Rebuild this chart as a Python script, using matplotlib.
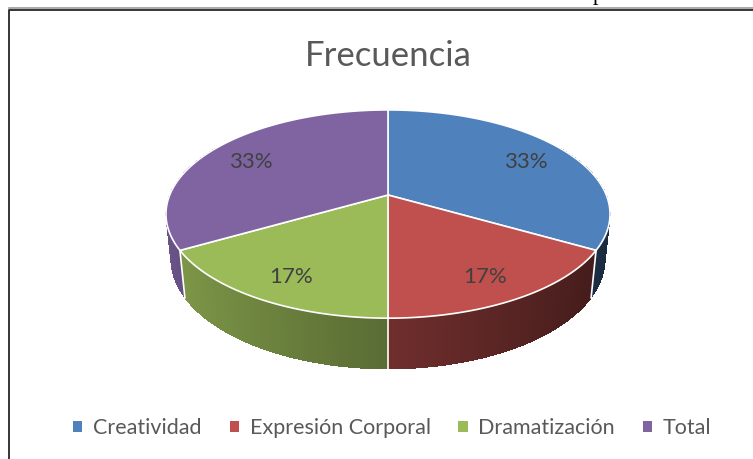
import numpy as np
import matplotlib.pyplot as plt
from matplotlib.patches import Polygon, Patch

# datos
categorias = ['Creatividad', 'Expresión Corporal', 'Dramatización', 'Total']
valores = [2, 1, 1, 2]
colores = ['#4F81BD', '#C0504D', '#9BBB59', '#8064A2']
titulo = 'Frecuencia'

plt.rcParams['font.family'] = ['Lato', 'DejaVu Sans']

# proyeccion en perspectiva del pastel 3D (pixeles)
CX, CY = 388, 195
F, D = 1058.7, 4.85
SA, CA = 0.461, 0.8874
H = 0.234


def proj(theta, r=1.0, h=0.0):
    th = np.radians(theta)
    z = -r * np.cos(th)
    u = r * np.sin(th)
    dc = D - z * CA + h * SA
    return CX + F * u / dc, CY + F * (z * SA + h * CA) / dc


def shade(color, theta):
    rgb = np.array(plt.matplotlib.colors.to_rgb(color))
    k = 0.58 + 0.26 * (-np.sin(np.radians(theta)))
    return tuple(np.clip(rgb * k, 0, 1))


fig = plt.figure(figsize=(7.53, 4.59), dpi=100)
ax = fig.add_axes([0, 0, 1, 1])
ax.set_xlim(0, 753)
ax.set_ylim(459, 0)
ax.axis('off')

# marco de la pagina
ax.plot([9, 753], [8, 8], color='#9a9a9a', lw=1.2)
ax.plot([9.5, 9.5, 753], [459, 10, 10], color='#262626', lw=1.3)
ax.text(598, 0, 'p', family='Liberation Serif', fontsize=16,
        ha='center', va='baseline', color='black')

total = sum(valores)
bordes = np.concatenate([[0], np.cumsum(valores) / total * 360])

# paredes laterales (de atras hacia adelante)
quads = []
for i, c in enumerate(colores):
    a0, a1 = bordes[i], bordes[i + 1]
    lo, hi = max(a0, 60), min(a1, 300)
    if hi <= lo:
        continue
    ts = np.append(np.arange(lo, hi, 1.0), hi)
    for t0, t1 in zip(ts[:-1], ts[1:]):
        tm = (t0 + t1) / 2
        t1e = min(t1 + 0.6, hi)
        pts = [proj(t0), proj(t1e), proj(t1e, h=H), proj(t0, h=H)]
        quads.append((-np.cos(np.radians(tm)), pts, shade(c, tm)))
quads.sort(key=lambda q: q[0])
for _, pts, col in quads:
    ax.add_patch(Polygon(pts, closed=True, facecolor=col, edgecolor='none',
                         lw=0, antialiased=False))

# lineas blancas entre porciones en la pared
for b in bordes[1:-1]:
    if np.cos(np.radians(b)) < 0.1:
        x0, y0 = proj(b)
        x1, y1 = proj(b, h=H)
        ax.plot([x0, x1], [y0, y1], color='white', lw=1.2)

# cara superior
for i, c in enumerate(colores):
    ts = np.linspace(bordes[i], bordes[i + 1], 120)
    pts = [(CX, CY)] + [proj(t) for t in ts]
    ax.add_patch(Polygon(pts, closed=True, facecolor=c, edgecolor='white',
                         lw=1.2, joinstyle='round'))

# etiquetas de porcentaje
for i in range(len(valores)):
    mid = (bordes[i] + bordes[i + 1]) / 2
    x, y = proj(mid, 0.78)
    ax.text(x, y + 4, f'{valores[i] / total * 100:.0f}%', ha='center',
            va='center', fontsize=16, color='#404040')

ax.text(388, 56, titulo, ha='center', va='center', fontsize=25,
        color='#595959')

handles = [Patch(facecolor=c, edgecolor='none') for c in colores]
fig.legend(handles, categorias, loc='center', bbox_to_anchor=(0.521, 0.068),
           ncol=4, frameon=False, fontsize=15.5, labelcolor='#595959',
           handlelength=0.42, handleheight=0.42, handletextpad=0.5,
           columnspacing=1.3)

fig.savefig('out.png', dpi=100)
